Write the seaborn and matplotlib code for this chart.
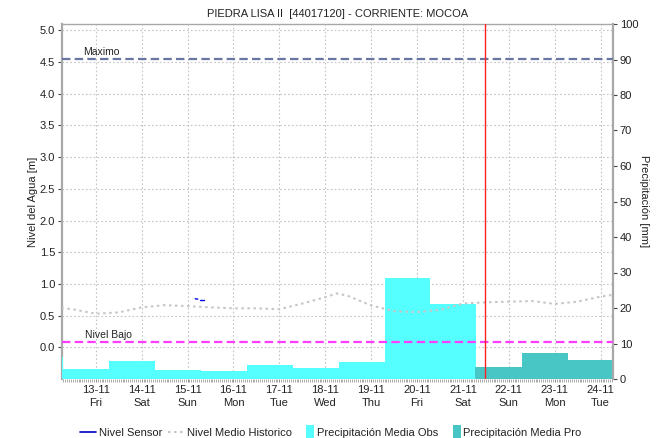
import matplotlib
matplotlib.use("Agg")
import matplotlib.pyplot as plt
import matplotlib.dates as mdates
import matplotlib.transforms as mtransforms
from matplotlib.lines import Line2D
from matplotlib.patches import Patch, Rectangle
from matplotlib.legend_handler import HandlerPatch
import seaborn as sns
import pandas as pd
import numpy as np

# ---- data -------------------------------------------------------------
title = "PIEDRA LISA II  [44017120] - CORRIENTE: MOCOA"

# daily precipitation, each bar covers 07:00 -> 07:00 of the next day
obs_start = ["2020-11-11 07:00", "2020-11-12 07:00", "2020-11-13 07:00",
             "2020-11-14 07:00", "2020-11-15 07:00", "2020-11-16 07:00",
             "2020-11-17 07:00", "2020-11-18 07:00", "2020-11-19 07:00",
             "2020-11-20 07:00"]
obs_mm = [6.3, 2.7, 5.2, 2.4, 2.15, 3.95, 3.0, 4.7, 28.4, 21.0]

pro_start = ["2020-11-21 06:30", "2020-11-22 07:00", "2020-11-23 07:00"]
pro_mm = [3.3, 7.35, 5.45]

# historical mean water level
hist_time = ["2020-11-12 06:00", "2020-11-12 12:00", "2020-11-13 00:00",
             "2020-11-13 12:00", "2020-11-14 00:00", "2020-11-14 12:00",
             "2020-11-15 00:00", "2020-11-15 12:00", "2020-11-16 00:00",
             "2020-11-16 12:00", "2020-11-17 00:00", "2020-11-17 12:00",
             "2020-11-18 00:00", "2020-11-18 06:00", "2020-11-18 12:00",
             "2020-11-19 00:00", "2020-11-19 12:00", "2020-11-20 00:00",
             "2020-11-20 12:00", "2020-11-21 00:00", "2020-11-21 12:00",
             "2020-11-22 00:00", "2020-11-22 12:00", "2020-11-23 00:00",
             "2020-11-23 12:00", "2020-11-24 00:00", "2020-11-24 07:00"]
hist_m = [0.62, 0.60, 0.53, 0.55, 0.63, 0.665, 0.65, 0.63, 0.615, 0.615,
          0.60, 0.69, 0.79, 0.85, 0.81, 0.66, 0.57, 0.555, 0.59, 0.69,
          0.71, 0.72, 0.73, 0.685, 0.72, 0.80, 0.83]

# sensor readings (two short pieces)
sensor_time = ["2020-11-15 04:00", "2020-11-15 05:20",
               "2020-11-15 06:40", "2020-11-15 08:30"]
sensor_m = [0.765, 0.76, 0.75, 0.75]
sensor_piece = [0, 0, 1, 1]

nivel_maximo = 4.55
nivel_bajo = 0.08
now_time = "2020-11-21 11:25"

x_start = "2020-11-12 06:20"
x_end = "2020-11-24 06:20"

# ---- style ------------------------------------------------------------
sns.set_style("white")
plt.rcParams["font.family"] = ["Liberation Sans", "DejaVu Sans"]
plt.rcParams["font.size"] = 8

txt_color = "#222222"
axis_gray = "#A8A8A8"
grid_gray = "#C4C4C4"
obs_color = "#55FFFF"
pro_color = "#48C6C6"

fig = plt.figure(figsize=(6.71, 4.38), dpi=100)
W, H = 671, 438
ax = fig.add_axes([62 / W, 1 - 379 / H, (612.7 - 62) / W, (379 - 24) / H])
ax_bar = ax.twinx()
ax_line = ax.twinx()

# ---- precipitation bars (right axis) -----------------------------------
obs_x = mdates.date2num(pd.to_datetime(obs_start))
pro_x = mdates.date2num(pd.to_datetime(pro_start))
ax_bar.bar(obs_x, obs_mm, width=1.0, align="edge", color=obs_color,
           edgecolor="none", linewidth=0)
pro_w = [1.0 + 0.5 / 24, 1.0, 1.0]
ax_bar.bar(pro_x, pro_mm, width=pro_w, align="edge", color=pro_color,
           edgecolor="none", linewidth=0)
ax_bar.set_ylim(0, 100)
ax_bar.set_yticks(np.arange(0, 101, 10))
ax_bar.set_ylabel("Precipitación [mm]", rotation=270, labelpad=8,
                  color=txt_color)

# ---- water level lines ------------------------------------------------
hist_df = pd.DataFrame({"t": pd.to_datetime(hist_time), "v": hist_m})
sns.lineplot(data=hist_df, x="t", y="v", ax=ax_line, color="#C6C6C6",
             linewidth=1.5, linestyle=(0, (1.2, 1.7)), legend=False)

sens_df = pd.DataFrame({"t": pd.to_datetime(sensor_time), "v": sensor_m,
                        "piece": sensor_piece})
sns.lineplot(data=sens_df, x="t", y="v", units="piece", estimator=None,
             ax=ax_line, color="#0000EE", linewidth=1.0, legend=False)

ax_line.axhline(nivel_maximo, color="#6A76A2", linewidth=1.6,
                linestyle=(0, (3.8, 1.9)))
ax_line.axhline(nivel_bajo, color="#FF3CFF", linewidth=1.6,
                linestyle=(0, (3.8, 1.9)))
ax_line.axvline(pd.Timestamp(now_time), color="#FF2020", linewidth=1.0)

blend = mtransforms.blended_transform_factory(ax_line.transAxes,
                                              ax_line.transData)
ax_line.text(0.038, nivel_maximo + 0.035, "Maximo", transform=blend,
             fontsize=7.5, color=txt_color, va="bottom", ha="left")
ax_line.text(0.041, nivel_bajo + 0.035, "Nivel Bajo", transform=blend,
             fontsize=7.5, color=txt_color, va="bottom", ha="left")

# ---- left axis / grid -------------------------------------------------
ylo, yhi = -0.5, 5.1
for a in (ax, ax_line):
    a.set_ylim(ylo, yhi)
ax.set_yticks(np.arange(0, 5.01, 0.5))
ax.yaxis.set_major_formatter(plt.FormatStrFormatter("%.1f"))
ax.set_ylabel("Nivel del Agua [m]", labelpad=1.5, color=txt_color)

ax.set_xlim(pd.Timestamp(x_start), pd.Timestamp(x_end))
ax.xaxis.set_major_locator(mdates.DayLocator())
ax.xaxis.set_major_formatter(mdates.DateFormatter("%d-%m\n%a"))
ax.xaxis.set_minor_locator(mdates.HourLocator(interval=1))

ax.grid(True, which="major", color=grid_gray, linestyle=(0, (1.5, 2)),
        linewidth=0.8)
ax.set_axisbelow(True)

ax.tick_params(axis="y", which="major", direction="out", length=3,
               width=0.8, color="#444444", labelcolor=txt_color,
               labelsize=8, pad=2, left=True, right=False)
ax.tick_params(axis="x", which="major", direction="out", length=2,
               width=0.6, color="#777777", labelcolor=txt_color,
               labelsize=8, pad=2.5, bottom=True)
ax.tick_params(axis="x", which="minor", direction="out", length=2,
               width=0.5, color="#888888", bottom=True)
ax_bar.tick_params(axis="y", direction="out", length=3, width=0.8,
                   color="#444444", labelcolor=txt_color, labelsize=8,
                   pad=2, right=True, left=False)

for lab in ax.get_xticklabels():
    lab.set_linespacing(1.35)

# ---- spines -----------------------------------------------------------
for a in (ax, ax_bar, ax_line):
    for s in a.spines.values():
        s.set_visible(False)
ax.spines["left"].set_visible(True)
ax.spines["left"].set_color(axis_gray)
ax.spines["left"].set_linewidth(1.6)
ax.spines["top"].set_visible(True)
ax.spines["top"].set_color(axis_gray)
ax.spines["top"].set_linewidth(1.0)
ax_bar.spines["right"].set_visible(True)
ax_bar.spines["right"].set_color(axis_gray)
ax_bar.spines["right"].set_linewidth(1.6)

ax_line.set_yticks([])
ax_line.set_ylabel("")
ax_line.set_xlabel("")
ax.set_xlabel("")
ax_line.tick_params(axis="both", which="both", left=False, right=False,
                    bottom=False, labelbottom=False, labelright=False)
ax_bar.tick_params(axis="x", which="both", bottom=False, labelbottom=False)

ax.set_title(title, fontsize=8, color=txt_color, pad=5)


# ---- legend -----------------------------------------------------------
class NarrowSwatch(HandlerPatch):
    """Square colour swatch at the right end of the handle box."""

    def create_artists(self, legend, orig_handle, xdescent, ydescent,
                       width, height, fontsize, trans):
        w = width * 0.5
        h = height * 1.5
        r = Rectangle((width - w - xdescent, -ydescent - (h - height) / 2),
                      w, h, facecolor=orig_handle.get_facecolor(),
                      edgecolor="none", transform=trans)
        return [r]


handles = [
    Line2D([], [], color="#0000CC", linewidth=1.2),
    Line2D([], [], color="#C6C6C6", linewidth=1.5, linestyle=(0, (1.2, 1.7))),
    Patch(facecolor=obs_color, edgecolor="none"),
    Patch(facecolor=pro_color, edgecolor="none"),
]
labels = ["Nivel Sensor", "Nivel Medio Historico",
          "Precipitación Media Obs", "Precipitación Media Pro"]
fig.legend(handles, labels, loc="lower center", bbox_to_anchor=(0.493, -0.022),
           ncol=4, frameon=False, fontsize=8, handlelength=1.45,
           handleheight=0.8, handletextpad=0.25, columnspacing=0.55,
           labelcolor=txt_color, handler_map={Patch: NarrowSwatch()})

fig.savefig("out.png", dpi=100)
